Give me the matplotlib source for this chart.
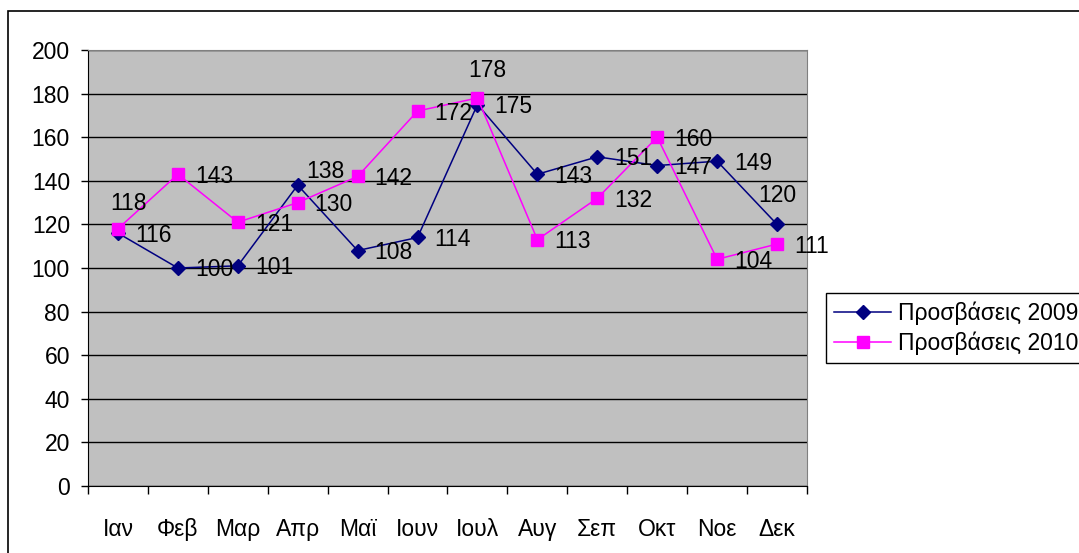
import matplotlib
matplotlib.use("Agg")
import matplotlib.pyplot as plt
from matplotlib.patches import Rectangle
import numpy as np

plt.rcParams['font.family'] = ['Liberation Sans', 'DejaVu Sans']

months = ["Ιαν", "Φεβ", "Μαρ", "Απρ", "Μαϊ", "Ιουν", "Ιουλ", "Αυγ", "Σεπ", "Οκτ", "Νοε", "Δεκ"]
visits_2009 = [116, 100, 101, 138, 108, 114, 175, 143, 151, 147, 149, 120]
visits_2010 = [118, 143, 121, 130, 142, 172, 178, 113, 132, 160, 104, 111]
yticks = [0, 20, 40, 60, 80, 100, 120, 140, 160, 180, 200]

# label offsets in pixels (dx, dy, ha) - default: right of point
off_2009 = {3: (9, 14, 'left'), 11: (0, 29, 'center')}
off_2010 = {0: (11, 25, 'center'), 6: (10, 27, 'center')}

FS = 16.5
W, H = 1079, 553
fig = plt.figure(figsize=(W / 100, H / 100), dpi=100)
fig.patch.set_facecolor('white')

# outer chart border
fig.add_artist(Rectangle((8 / W, -0.1), 1.2, 1.1 - 11 / H, transform=fig.transFigure,
                         fill=False, edgecolor='black', linewidth=1.2))

ax = fig.add_axes([88 / W, (H - 486) / H, 719 / W, 436 / H])
ax.set_facecolor('#C0C0C0')

x = np.arange(len(months))
ax.plot(x, visits_2009, color='#000080', marker='D', markersize=7, linewidth=1.1,
        label='Προσβάσεις 2009', zorder=3)
ax.plot(x, visits_2010, color='#FF00FF', marker='s', markersize=8, linewidth=1.1,
        label='Προσβάσεις 2010', zorder=3)

for vals, offs in ((visits_2009, off_2009), (visits_2010, off_2010)):
    for i, v in enumerate(vals):
        dx, dy, ha = offs.get(i, (17, -2, 'left'))
        ax.annotate(str(v), (i, v), xytext=(dx, dy), textcoords='offset pixels',
                    ha=ha, va='center', fontsize=FS, zorder=4)

ax.set_xlim(-0.5, len(months) - 0.5)
ax.set_ylim(0, 200)
ax.set_yticks(yticks)
ax.tick_params(axis='y', direction='out', length=5, width=1, labelsize=FS, pad=8)
ax.set_xticks(x)
ax.set_xticklabels(months)
ax.set_xticks(np.arange(-0.5, len(months), 1), minor=True)
ax.tick_params(axis='x', which='major', length=0, labelsize=FS, pad=23)
ax.tick_params(axis='x', which='minor', direction='out', length=6, width=1)
ax.yaxis.grid(True, color='black', linewidth=1)
ax.set_axisbelow(True)

for s in ('top', 'right'):
    ax.spines[s].set_color('#808080')
for s in ('left', 'bottom'):
    ax.spines[s].set_color('black')

leg = fig.legend(loc='upper left', bbox_to_anchor=(826 / W, 1 - 293 / H), fontsize=FS,
                 frameon=True, fancybox=False, edgecolor='black', framealpha=1,
                 borderpad=0.35, labelspacing=0.3, handlelength=2.5, handletextpad=0.3,
                 borderaxespad=0)
leg.get_frame().set_linewidth(1)

fig.savefig('out.png', dpi=100)
